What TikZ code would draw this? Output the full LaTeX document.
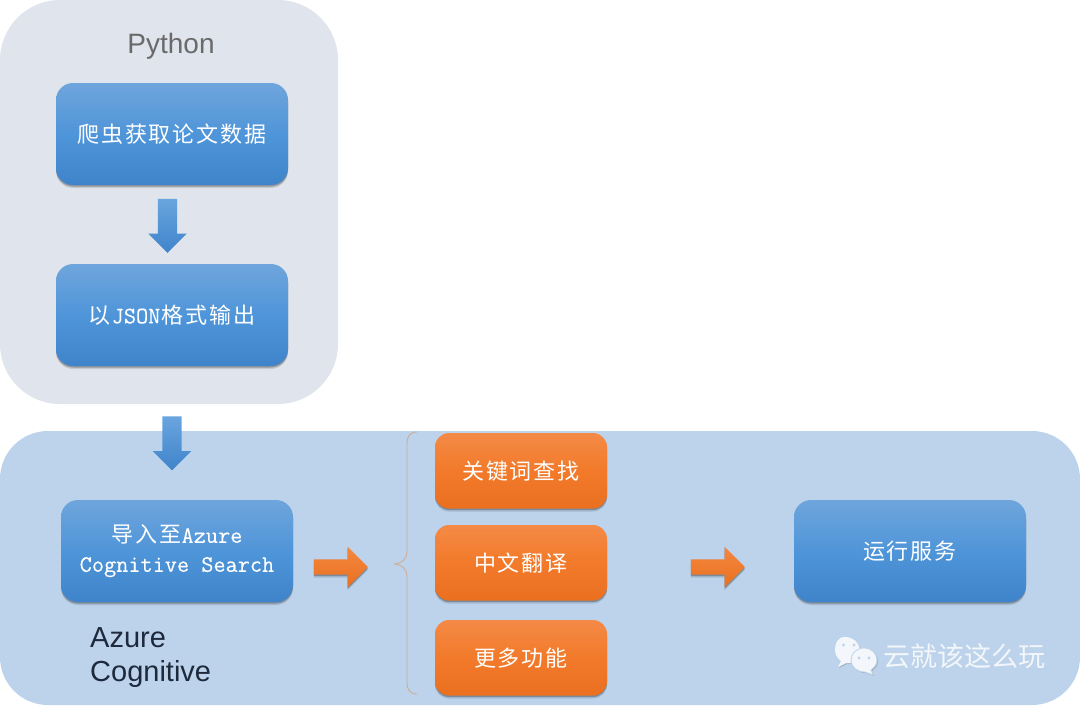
\documentclass[tikz,border=0pt]{standalone}
\usepackage{fontspec}
\setmainfont{Liberation Sans}
\newfontfamily\cjk[LetterSpace=9]{Noto Sans CJK SC}
\newfontfamily\cjkw{Noto Sans CJK SC}
\newfontfamily\latm[FakeBold=0.25]{Latin Modern Mono}
\usetikzlibrary{shapes.arrows,shadows}
\definecolor{panelgray}{HTML}{E0E4EC}
\definecolor{panelblue}{HTML}{BCD3EB}
\definecolor{btop}{HTML}{6FA5DC}
\definecolor{bmid}{HTML}{4F95D9}
\definecolor{bbot}{HTML}{3F84CA}
\definecolor{otop}{HTML}{F48A47}
\definecolor{omid}{HTML}{F27A2A}
\definecolor{obot}{HTML}{EA7020}
\definecolor{bracec}{HTML}{CFAE94}
\definecolor{tgray}{HTML}{6A6A6A}
\definecolor{tdark}{HTML}{1E2A3C}
\definecolor{wmwhite}{HTML}{F3F6FA}
\newcommand{\dn}[2][-5.5pt]{\raisebox{#1}{#2}}
\newcommand{\lt}[1]{{\latm\fontsize{23.6}{30}\selectfont #1}}
\tikzset{
 panel/.style={anchor=north west,inner sep=0pt,outer sep=0pt},
 softshadow/.style={drop shadow={shadow xshift=0pt,shadow yshift=-3pt,opacity=.12,fill=black},drop shadow={shadow xshift=0pt,shadow yshift=-1.5pt,opacity=.25,fill=black}},
 bluebox/.style={anchor=north west,inner sep=0pt,outer sep=0pt,minimum width=232pt,minimum height=102pt,rounded corners=17pt,softshadow,top color=btop,bottom color=bbot,middle color=bmid,text=white,align=center,font=\fontsize{22}{30}\selectfont\cjk},
 orangebox/.style={anchor=north west,inner sep=0pt,outer sep=0pt,minimum width=172pt,minimum height=75.5pt,rounded corners=14pt,softshadow,top color=otop,bottom color=obot,middle color=omid,text=white,font=\fontsize{22}{26}\selectfont\cjk},
 downarrow/.style={single arrow,inner sep=9.5pt,outer sep=0pt,shape border rotate=270,minimum height=54pt,single arrow head extend=9.5pt,top color=bmid!85!white,bottom color=bbot,draw=none},
 rightarrow/.style={single arrow,inner sep=7.5pt,outer sep=0pt,minimum height=54pt,single arrow head extend=12.5pt,top color=omid!90!white,bottom color=obot,softshadow,draw=none},
}
\begin{document}
\begin{tikzpicture}[x=1pt,y=-1pt]
\useasboundingbox (0,0) rectangle (1080,705);
% panels
\node[panel,fill=panelgray,minimum width=338pt,minimum height=404pt,rounded corners=60pt] (python) at (0,0) {};
\node[panel,fill=panelblue,minimum width=1080pt,minimum height=274pt,rounded corners=48pt] (azure) at (0,431) {};
\node[font=\fontsize{28}{30}\selectfont,text=tgray] (ptitle) at (171,46.5) {Python};
\node[anchor=north west,inner sep=0pt,align=left,font=\fontsize{29}{34.5}\selectfont,text=tdark] (atitle) at (90,627) {Azure\\Cognitive};
% blue boxes
\node[bluebox] (crawl) at (56,83) {\dn{爬虫获取论文数据}};
\node[bluebox] (json) at (56,264) {\dn[-4pt]{以\lt{\hspace{.8pt}JSON\hspace{.8pt}}格式输出}};
\node[bluebox] (import) at (61,500) {\dn[-11pt]{导入至\lt{Azure}}\\[-1pt]\dn[-11pt]{\lt{Cognitive Search}}};
\node[bluebox] (run) at (794,500) {\dn[-4pt]{运行服务}};
% orange boxes
\node[orangebox] (kw) at (435,433) {\dn[-4pt]{关键词查找}};
\node[orangebox] (zh) at (435,525) {\dn[-4pt]{中文翻译}};
\node[orangebox] (more) at (435,620) {\dn[-4pt]{更多功能}};
% block arrows
\node[downarrow] (a1) at (167.5,221) {};
\node[downarrow] (a2) at (172,438.5) {};
\node[rightarrow] (a3) at (337,567) {};
\node[rightarrow] (a4) at (714,567) {};
% brace
\draw[bracec,line width=.9pt] (417,432) .. controls (410,432) and (407,436) .. (407,444)
  -- (407,552) .. controls (407,559) and (402,563) .. (395,564)
  .. controls (402,565) and (407,569) .. (407,576)
  -- (407,682) .. controls (407,690) and (410,694) .. (417,694);
% watermark
\fill[wmwhite,drop shadow={shadow xshift=1pt,shadow yshift=-1pt,opacity=.35}]
  (845,637) .. controls (837,637) and (835,644) .. (835,650) .. controls (835,655) and (838,659) .. (841,661)
  -- (838,667) -- (846,663) .. controls (852,664) and (859,662) .. (860,650) .. controls (859,642) and (853,637) .. (845,637) -- cycle;
\fill[panelblue] (843.5,645) circle (1.7) (854,645) circle (1.7);
\fill[wmwhite,draw=panelblue,line width=.8pt,drop shadow={shadow xshift=1pt,shadow yshift=-1pt,opacity=.45}]
  (864,648) .. controls (856,648) and (851,654) .. (851,660) .. controls (851,667) and (857,672) .. (865,672)
  -- (873,675) -- (871,670) .. controls (875,667) and (877,664) .. (877,660) .. controls (877,654) and (872,648) .. (864,648) -- cycle;
\fill[panelblue] (859,658) circle (1.6) (869,658) circle (1.6);
\node[inner sep=0pt,text=wmwhite,font=\fontsize{27}{30}\selectfont\cjkw] (brand) at (964,656) {云就该这么玩};
\end{tikzpicture}
\end{document}
